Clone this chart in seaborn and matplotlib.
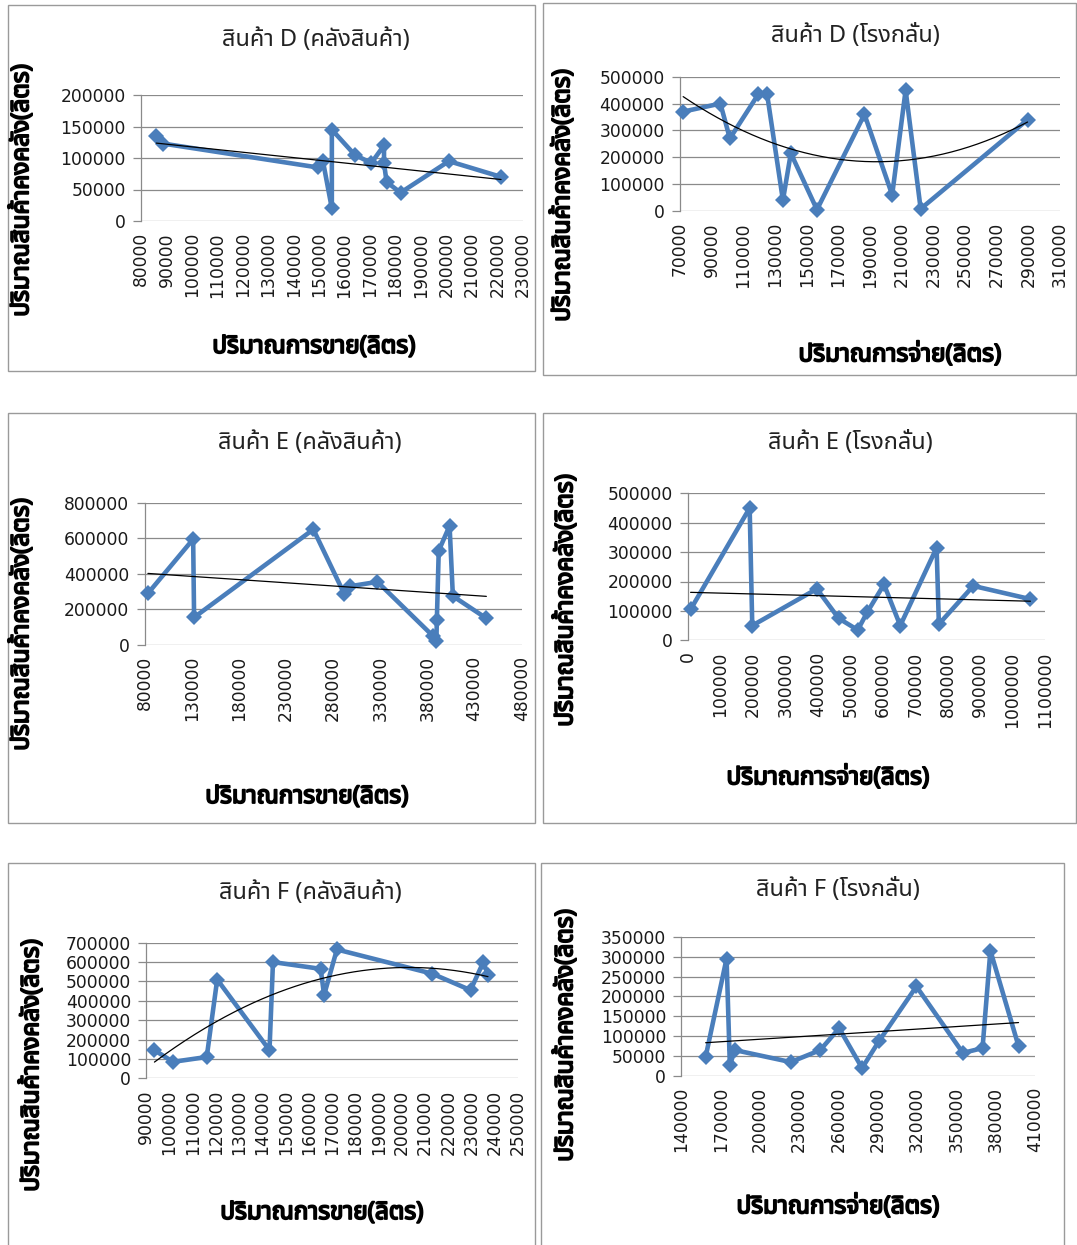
import numpy as np
import pandas as pd
import matplotlib
matplotlib.use("Agg")
import matplotlib.pyplot as plt
from matplotlib import font_manager, ft2font
from matplotlib import patheffects
from matplotlib.patches import Rectangle
import seaborn as sns

# ---- data -------------------------------------------------------------
d_wh_x = [86000, 88500, 149500, 151500, 155000, 155000, 164000, 170500, 175500, 175500, 176500, 182000, 201000, 221500]
d_wh_y = [135000, 123000, 85000, 95000, 20000, 145000, 105000, 92000, 120000, 92000, 62000, 45000, 95000, 70000]

d_rf_x = [72000, 95500, 101500, 119500, 125000, 135000, 140000, 156500, 186500, 204000, 212500, 222000, 289500]
d_rf_y = [370000, 400000, 270000, 435000, 435000, 40000, 215000, 5000, 360000, 60000, 450000, 8000, 340000]

e_wh_x = [83500, 131500, 132500, 259000, 292000, 297500, 327000, 386000, 389500, 390000, 392000, 403500, 407000, 442500]
e_wh_y = [290000, 595000, 155000, 650000, 285000, 330000, 355000, 50000, 22000, 140000, 530000, 670000, 275000, 150000]

e_rf_x = [8000, 190000, 198000, 397000, 464000, 523000, 552000, 604000, 654000, 766000, 773000, 879000, 1055000]
e_rf_y = [105000, 450000, 50000, 175000, 75000, 35000, 95000, 190000, 50000, 315000, 55000, 185000, 140000]

f_wh_x = [93500, 101500, 116000, 120500, 143000, 144500, 165000, 166500, 172000, 213000, 229500, 235000, 237000]
f_wh_y = [145000, 85000, 110000, 510000, 145000, 600000, 565000, 430000, 665000, 540000, 455000, 600000, 535000]

f_rf_x = [158500, 174500, 177000, 181000, 223500, 246000, 260500, 278000, 291000, 319500, 355000, 370000, 376000, 397500]
f_rf_y = [48000, 295000, 28000, 65000, 35000, 65000, 120000, 20000, 88000, 225000, 58000, 70000, 315000, 75000]

titles = ["สินค้า D (คลังสินค้า)", "สินค้า D (โรงกลั่น)",
          "สินค้า E (คลังสินค้า)", "สินค้า E (โรงกลั่น)",
          "สินค้า F (คลังสินค้า)", "สินค้า F (โรงกลั่น)"]
ylabel_text = "ปริมาณสินค้าคงคลัง(ลิตร)"
xlabel_sale = "ปริมาณการขาย(ลิตร)"
xlabel_out = "ปริมาณการจ่าย(ลิตร)"

x_ticks = [
    np.arange(80000, 230001, 10000),
    np.arange(70000, 310001, 20000),
    np.arange(80000, 480001, 50000),
    np.arange(0, 1100001, 100000),
    np.arange(90000, 250001, 10000),
    np.arange(140000, 410001, 30000),
]
y_ticks = [
    np.arange(0, 200001, 50000),
    np.arange(0, 500001, 100000),
    np.arange(0, 800001, 200000),
    np.arange(0, 500001, 100000),
    np.arange(0, 700001, 100000),
    np.arange(0, 350001, 50000),
]
trend_degree = [1, 2, 1, 1, 2, 1]


# ---- fonts: find a face that carries Thai glyphs ----------------------
def thai_family():
    preferred = ["Tahoma", "Noto Sans Thai", "Noto Sans Thai UI", "Loma", "Garuda",
                 "Sawasdee", "Waree", "Umpush", "Kinnari", "Norasi", "Laksaman"]
    found = {}
    for f in font_manager.fontManager.ttflist:
        try:
            cmap = ft2font.FT2Font(f.fname).get_charmap()
        except Exception:
            continue
        if 0x0E2A in cmap and 0x0E04 in cmap:
            found.setdefault(f.name, f.fname)
    for name in preferred:
        if name in found:
            return name
    return sorted(found)[0] if found else None


sns.set_style("white")
thai = thai_family()
families = ([thai] if thai else []) + ["DejaVu Sans"]
plt.rcParams["font.family"] = families

# heavier strokes for the axis titles
bold_fx = [patheffects.withStroke(linewidth=1.3, foreground="black")]

W, H = 1077, 1245
fig = plt.figure(figsize=(W / 100, H / 100), dpi=100)
fig.patch.set_facecolor("white")


def frac_box(left, top, right, bottom):
    return [left / W, 1 - bottom / H, (right - left) / W, (bottom - top) / H]


# panel frames (left, top, right, bottom) in pixels
frames = [(8, 5, 535, 371), (543, 3, 1076, 375),
          (8, 413, 535, 823), (543, 413, 1076, 823),
          (8, 863, 535, 1250), (541, 863, 1064, 1250)]
# plot areas
areas = [(141, 95, 522.7, 221), (680, 76.7, 1060, 211),
         (144.6, 502.7, 521.7, 645), (688, 493.3, 1045, 640.3),
         (146.3, 942.7, 518.2, 1078.3), (681.4, 936.7, 1034.9, 1076)]
title_pos = [(316, 40), (855, 36), (310, 443), (850, 443), (310, 893), (838, 890)]
ylab_pos = [(22, 190), (563, 195), (22, 624), (566, 600), (32, 1065), (566, 1035)]
xlab_pos = [(314, 347), (900, 355), (307, 797), (828, 778), (322, 1213), (838, 1207)]

series = [(d_wh_x, d_wh_y), (d_rf_x, d_rf_y), (e_wh_x, e_wh_y),
          (e_rf_x, e_rf_y), (f_wh_x, f_wh_y), (f_rf_x, f_rf_y)]
xlabels = [xlabel_sale, xlabel_out] * 3

blue = "#4A7EBB"
grid_c = "#8A8A8A"

for i in range(6):
    fl, ft, fr, fb = frames[i]
    fig.add_artist(Rectangle((fl / W, 1 - fb / H), (fr - fl) / W, (fb - ft) / H,
                             transform=fig.transFigure, fill=False,
                             edgecolor="#9A9A9A", linewidth=1.0))

    ax = fig.add_axes(frac_box(*areas[i]))
    xs, ys = series[i]
    df = pd.DataFrame({"x": xs, "y": ys})

    sns.lineplot(data=df, x="x", y="y", sort=False, estimator=None, ax=ax,
                 color=blue, linewidth=3.3, marker="D", markersize=8.5,
                 markeredgewidth=0, markerfacecolor=blue, clip_on=False, zorder=3)

    coef = np.polyfit(df["x"], df["y"], trend_degree[i])
    tx = np.linspace(df["x"].min(), df["x"].max(), 200)
    trend = pd.DataFrame({"x": tx, "y": np.polyval(coef, tx)})
    sns.lineplot(data=trend, x="x", y="y", sort=False, estimator=None, ax=ax,
                 color="black", linewidth=0.9, zorder=4)

    xt, yt = x_ticks[i], y_ticks[i]
    ax.set_xlim(xt[0], xt[-1])
    ax.set_ylim(yt[0], yt[-1])
    ax.set_xticks(xt)
    ax.set_yticks(yt)
    ax.set_xticklabels([str(v) for v in xt], rotation=90, family="DejaVu Sans",
                       fontsize=12.3, color="#1a1a1a")
    ax.set_yticklabels([str(v) for v in yt], family="DejaVu Sans",
                       fontsize=12.3, color="#1a1a1a")
    ax.tick_params(axis="y", length=6, width=0.9, color=grid_c, pad=5, direction="out", left=True)
    ax.tick_params(axis="x", length=0, pad=8)
    ax.yaxis.grid(True, color=grid_c, linewidth=0.9)
    ax.xaxis.grid(False)
    for s in ("top", "right", "bottom"):
        ax.spines[s].set_visible(False)
    ax.spines["left"].set_color(grid_c)
    ax.spines["left"].set_linewidth(0.9)
    ax.set_facecolor("none")
    ax.set_xlabel("")
    ax.set_ylabel("")

    tx_, ty_ = title_pos[i]
    fig.text(tx_ / W, 1 - ty_ / H, titles[i], ha="center", va="center",
             fontsize=17, color="#222222")
    yx, yy = ylab_pos[i]
    fig.text(yx / W, 1 - yy / H, ylabel_text, ha="center", va="center",
             rotation=90, fontsize=17.5, fontweight="bold", color="black",
             path_effects=bold_fx)
    xx, xy = xlab_pos[i]
    fig.text(xx / W, 1 - xy / H, xlabels[i], ha="center", va="center",
             fontsize=17.5, fontweight="bold", color="black",
             path_effects=bold_fx)

fig.savefig("out.png", dpi=100, facecolor="white")
